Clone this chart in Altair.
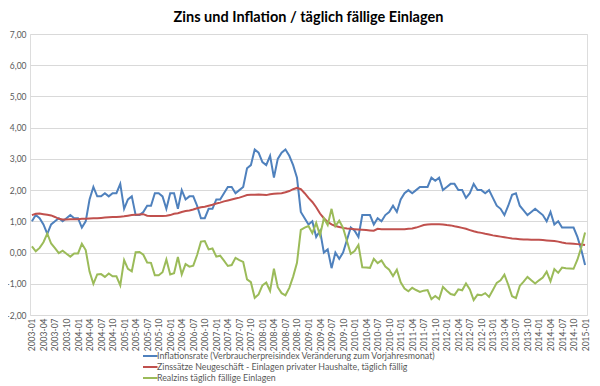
import altair as alt
import pandas as pd

months = [f"{y}-{m:02d}" for y in range(2003, 2015) for m in range(1, 13)] + ["2015-01"]
tick_months = months[::3]
y_ticks = [-2, -1, 0, 1, 2, 3, 4, 5, 6, 7]

inflation = [
    1.0, 1.2, 1.1, 0.9, 0.6, 0.9, 1.0, 1.1, 1.0, 1.1, 1.2, 1.1,
    1.1, 0.8, 1.0, 1.7, 2.1, 1.8, 1.8, 1.9, 1.8, 1.9, 1.9, 2.2,
    1.4, 1.7, 1.8, 1.2, 1.2, 1.3, 1.5, 1.5, 1.9, 1.9, 1.8, 1.4,
    1.9, 1.9, 1.4, 2.0, 1.7, 1.8, 1.8, 1.5, 1.1, 1.1, 1.4, 1.4,
    1.7, 1.7, 1.9, 2.1, 2.1, 1.9, 2.0, 2.1, 2.7, 2.8, 3.3, 3.2,
    2.9, 2.8, 3.1, 2.4, 3.0, 3.2, 3.3, 3.1, 2.8, 2.4, 1.3, 1.1,
    0.9, 1.0, 0.5, 0.7, 0.0, 0.1, -0.5, 0.0, -0.2, 0.0, 0.4, 0.8,
    0.7, 0.5, 1.2, 1.2, 1.2, 0.9, 1.1, 1.0, 1.2, 1.3, 1.5, 1.3,
    1.7, 1.9, 2.0, 1.9, 2.0, 2.1, 2.1, 2.1, 2.4, 2.3, 2.4, 2.0,
    2.1, 2.2, 2.2, 2.0, 2.0, 1.75, 1.9, 2.2, 2.0, 2.0, 1.9, 2.0,
    1.75, 1.5, 1.4, 1.2, 1.5, 1.85, 1.9, 1.5, 1.35, 1.2, 1.3, 1.4,
    1.3, 1.2, 1.0, 1.3, 0.9, 1.0, 0.8, 0.8, 0.8, 0.8, 0.5, 0.1,
    -0.4,
]

zins = [
    1.20, 1.24, 1.25, 1.23, 1.21, 1.19, 1.14, 1.08, 1.06, 1.06, 1.07, 1.07,
    1.07, 1.08, 1.08, 1.09, 1.10, 1.10, 1.11, 1.12, 1.13, 1.14, 1.14, 1.15,
    1.16, 1.18, 1.20, 1.21, 1.22, 1.23, 1.18, 1.17, 1.17, 1.17, 1.17, 1.18,
    1.20, 1.24, 1.26, 1.30, 1.33, 1.35, 1.38, 1.42, 1.45, 1.47, 1.50, 1.53,
    1.57, 1.60, 1.64, 1.67, 1.70, 1.73, 1.76, 1.80, 1.84, 1.85, 1.85, 1.86,
    1.85, 1.84, 1.87, 1.88, 1.89, 1.90, 1.93, 1.97, 2.03, 2.07, 2.03, 1.90,
    1.75, 1.62, 1.45, 1.25, 1.10, 0.98, 0.90, 0.85, 0.82, 0.79, 0.77, 0.76,
    0.75, 0.74, 0.73, 0.72, 0.71, 0.70, 0.76, 0.75, 0.75, 0.75, 0.75, 0.75,
    0.75, 0.75, 0.76, 0.77, 0.80, 0.84, 0.88, 0.90, 0.91, 0.91, 0.91, 0.90,
    0.88, 0.87, 0.84, 0.82, 0.79, 0.76, 0.72, 0.68, 0.65, 0.63, 0.60, 0.58,
    0.55, 0.53, 0.51, 0.49, 0.47, 0.45, 0.44, 0.43, 0.42, 0.42, 0.41, 0.41,
    0.41, 0.40, 0.39, 0.38, 0.37, 0.35, 0.32, 0.30, 0.29, 0.28, 0.27, 0.26,
    0.24,
]

realzins = [
    0.20, 0.04, 0.15, 0.33, 0.61, 0.29, 0.14, -0.02, 0.06, -0.04, -0.13, -0.03,
    -0.03, 0.28, 0.08, -0.61, -1.00, -0.70, -0.69, -0.78, -0.67, -0.76, -0.76, -1.05,
    -0.24, -0.52, -0.60, 0.01, 0.02, -0.07, -0.32, -0.33, -0.73, -0.73, -0.63, -0.22,
    -0.70, -0.66, -0.14, -0.70, -0.37, -0.45, -0.42, -0.08, 0.35, 0.37, 0.10, 0.13,
    -0.13, -0.10, -0.26, -0.43, -0.40, -0.17, -0.24, -0.30, -0.86, -0.95, -1.45, -1.34,
    -1.05, -0.96, -1.23, -0.52, -1.11, -1.30, -1.37, -1.13, -0.77, -0.33, 0.73, 0.80,
    0.85, 0.62, 0.95, 0.55, 1.10, 0.88, 1.40, 0.85, 1.02, 0.79, 0.37, -0.04,
    0.05, 0.24, -0.47, -0.48, -0.49, -0.20, -0.34, -0.25, -0.45, -0.55, -0.75, -0.55,
    -0.95, -1.15, -1.24, -1.13, -1.20, -1.26, -1.22, -1.20, -1.49, -1.39, -1.49, -1.10,
    -1.22, -1.33, -1.36, -1.18, -1.21, -0.99, -1.18, -1.52, -1.35, -1.37, -1.30, -1.42,
    -1.20, -0.97, -0.89, -0.71, -1.03, -1.40, -1.46, -1.07, -0.93, -0.78, -0.89, -0.99,
    -0.89, -0.80, -0.61, -0.92, -0.53, -0.65, -0.48, -0.50, -0.51, -0.52, -0.23, 0.16,
    0.64,
]

names = [
    "Inflationsrate (Verbraucherpreisindex Veränderung zum Vorjahresmonat)",
    "Zinssätze Neugeschäft - Einlagen privater Haushalte, täglich fällig",
    "Realzins täglich fällige Einlagen",
]
colors = ["#4F81BD", "#C0504D", "#9BBB59"]

rows = []
for name, series in zip(names, [inflation, zins, realzins]):
    for m, v in zip(months, series):
        rows.append({"Monat": m, "Wert": v, "Reihe": name})
df = pd.DataFrame(rows)

FONT = "Lato"
TXT = "#595959"

chart = (
    alt.Chart(df)
    .mark_line(strokeWidth=2)
    .encode(
        x=alt.X(
            "Monat:O",
            sort=months,
            scale=alt.Scale(type="point", padding=0.5, domain=months),
            axis=alt.Axis(
                values=tick_months,
                title=None,
                labelAngle=-90,
                labelFontSize=8.5,
                labelColor=TXT,
                labelFont=FONT,
                labelPadding=3,
                ticks=False,
                domain=False,
                grid=False,
            ),
        ),
        y=alt.Y(
            "Wert:Q",
            scale=alt.Scale(domain=[-2, 7], nice=False, zero=False),
            axis=alt.Axis(
                values=y_ticks,
                title=None,
                labelExpr="(datum.value < 0 ? '-' : '') + replace(format(abs(datum.value), '.2f'), '.', ',')",
                labelFontSize=8.5,
                labelColor=TXT,
                labelFont=FONT,
                labelPadding=4,
                ticks=False,
                domain=False,
                grid=True,
                gridColor="#d9d9d9",
                gridWidth=1,
            ),
        ),
        color=alt.Color(
            "Reihe:N",
            sort=names,
            scale=alt.Scale(domain=names, range=colors),
            legend=alt.Legend(
                title=None,
                orient="none",
                legendX=113,
                legendY=318,
                direction="vertical",
                symbolType="M-1.7,0H1.7",
                symbolStrokeWidth=2,
                symbolSize=100,
                symbolFillColor="transparent",
                clipHeight=8,
                labelFontSize=8.8,
                labelFont=FONT,
                labelColor=TXT,
                labelLimit=400,
                labelOffset=2,
                rowPadding=2,
            ),
        ),
    )
    .properties(
        width=557,
        height=281,
        autosize="none",
        padding={"left": 22, "top": 26, "right": 5, "bottom": 68},
        title=alt.TitleParams(
            "Zins und Inflation / täglich fällige Einlagen",
            font=FONT,
            fontSize=14.5,
            fontWeight="bold",
            color="#000000",
            anchor="middle",
            offset=5,
        ),
    )
    .configure_view(stroke=None)
    .configure(background="white")
)

chart.save("out.html", embed_options={"renderer": "svg", "actions": False})
